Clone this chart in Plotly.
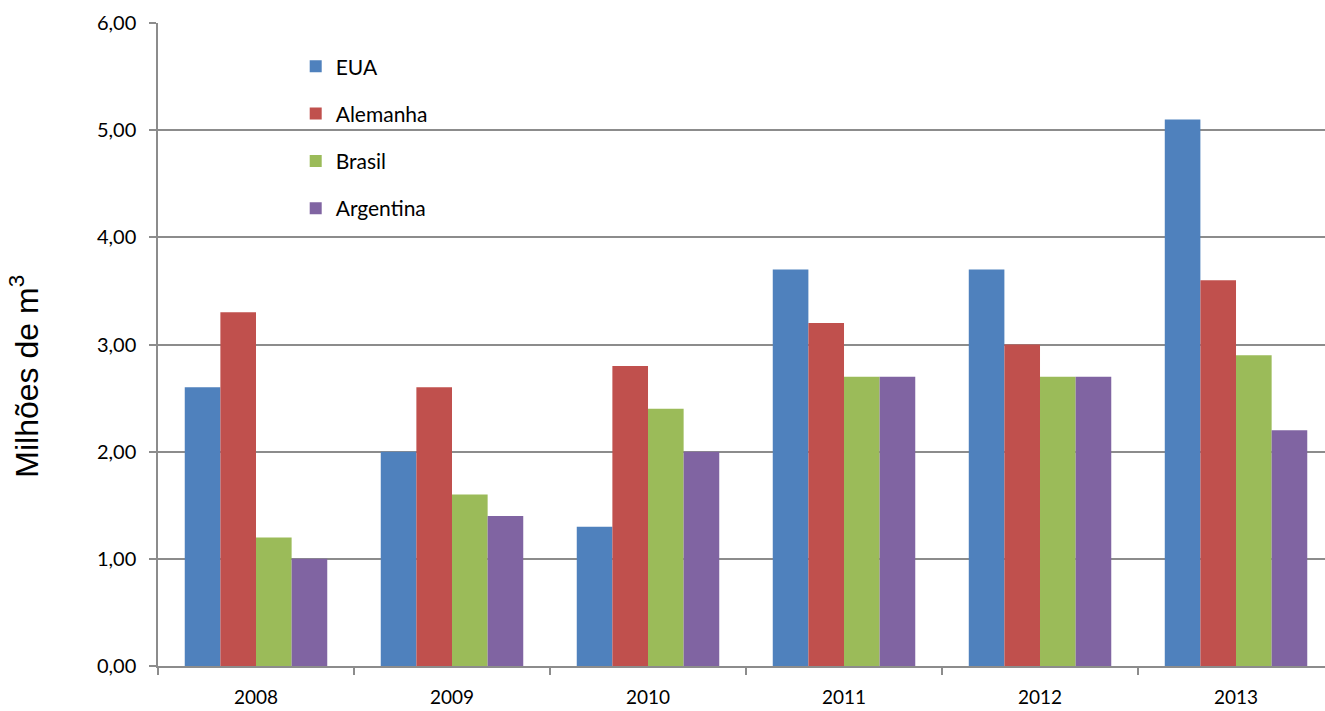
import plotly.graph_objects as go

years = ["2008", "2009", "2010", "2011", "2012", "2013"]
eua = [2.6, 2.0, 1.3, 3.7, 3.7, 5.1]
alemanha = [3.3, 2.6, 2.8, 3.2, 3.0, 3.6]
brasil = [1.2, 1.6, 2.4, 2.7, 2.7, 2.9]
argentina = [1.0, 1.4, 2.0, 2.7, 2.7, 2.2]
y_ticks = [0, 1, 2, 3, 4, 5, 6]
y_tick_text = ["0,00", "1,00", "2,00", "3,00", "4,00", "5,00", "6,00"]

series = [
    ("EUA", eua, "#4F81BD"),
    ("Alemanha", alemanha, "#C0504D"),
    ("Brasil", brasil, "#9BBB59"),
    ("Argentina", argentina, "#8064A2"),
]

fig = go.Figure()
for name, vals, color in series:
    fig.add_trace(go.Bar(
        x=years, y=vals, name=name, legendgroup=name,
        marker=dict(color=color, line=dict(width=0)),
    ))

grid = "#8C8C8C"
fig.update_layout(
    width=1325, height=711,
    margin=dict(l=158, r=0, t=23, b=45),
    paper_bgcolor="white", plot_bgcolor="white",
    barmode="group", bargap=0.273, bargroupgap=0,
    font=dict(family="Lato, sans-serif", size=19, color="#000000"),
    showlegend=True,
    legend=dict(
        x=0.118, y=0.964, xanchor="left", yanchor="top",
        bgcolor="rgba(0,0,0,0)", borderwidth=0,
        font=dict(family="Lato, sans-serif", size=21, color="#000000"),
        tracegroupgap=17,
    ),
    xaxis=dict(
        type="category", range=[-0.5, 5.454],
        showgrid=False, showline=True, linecolor=grid, linewidth=1.5,
        ticks="outside", tickson="boundaries", ticklen=7, tickcolor=grid, tickwidth=1.5,
        tickfont=dict(family="Lato, sans-serif", size=19),
        ticklabelstandoff=13,
    ),
    yaxis=dict(
        range=[0, 6], tickvals=y_ticks, ticktext=y_tick_text,
        showgrid=True, gridcolor=grid, gridwidth=1.5,
        showline=True, linecolor=grid, linewidth=1.5,
        ticks="outside", ticklen=7, tickcolor=grid, tickwidth=1.5,
        zeroline=False,
        tickfont=dict(family="Lato, sans-serif", size=20),
        ticklabelstandoff=9,
    ),
    annotations=[dict(
        text="Milhões de m<sup>3</sup>", textangle=-90,
        xref="paper", yref="paper", x=0, y=0.45,
        xanchor="center", yanchor="middle", xshift=-134,
        showarrow=False,
        font=dict(family="Liberation Sans, Arial, sans-serif", size=32, color="#000000"),
    )],
)

fig.write_html("out.html")
